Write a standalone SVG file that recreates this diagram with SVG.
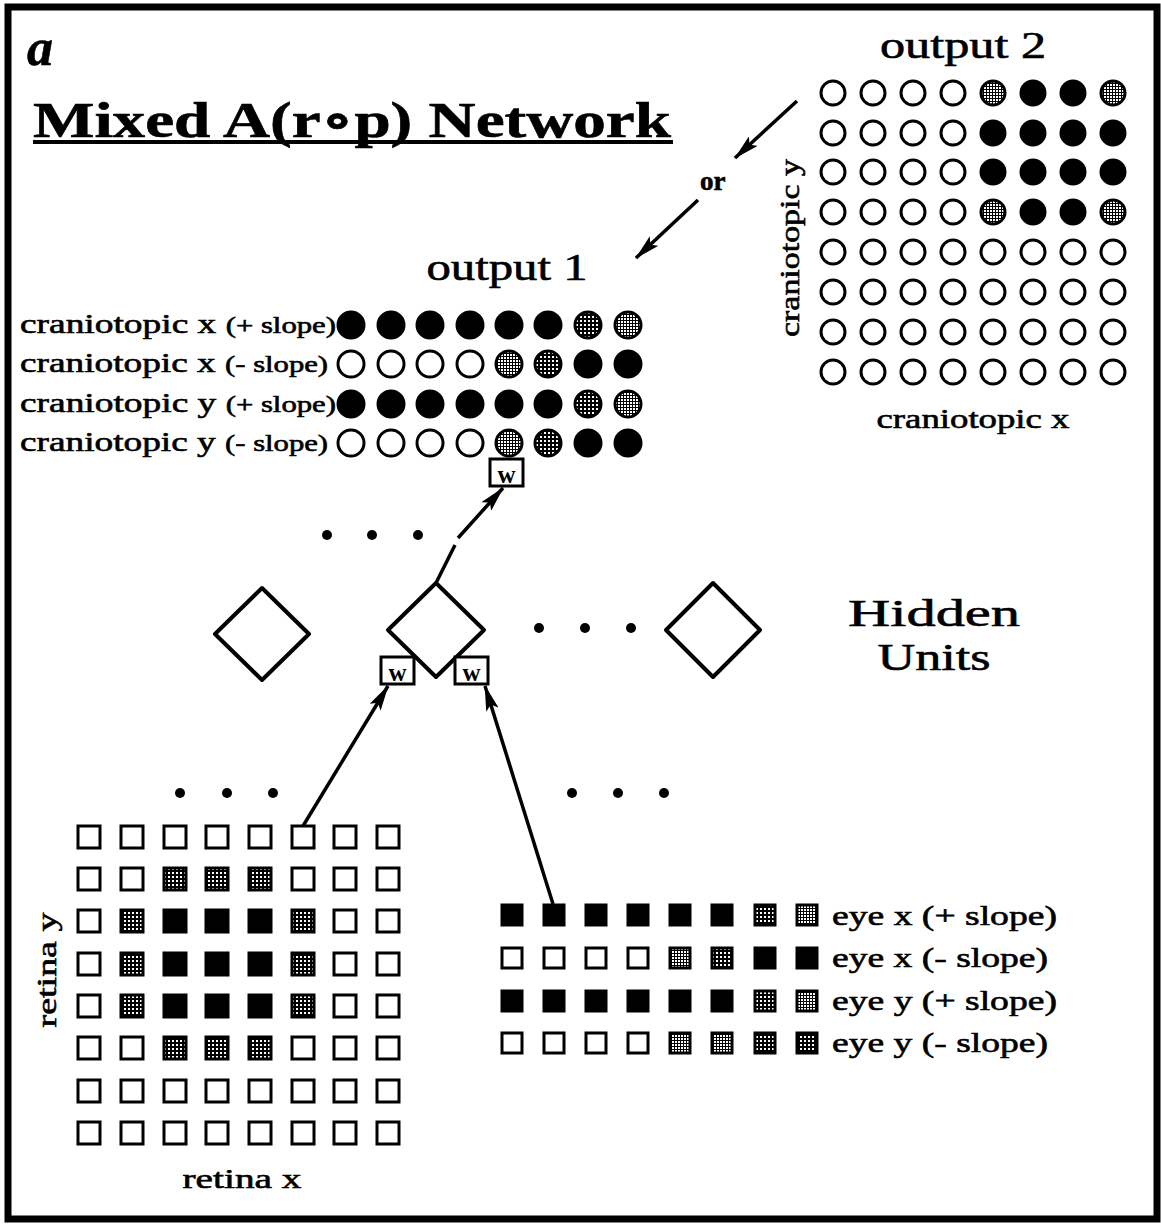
<svg xmlns="http://www.w3.org/2000/svg" width="1161" height="1225" viewBox="0 0 1161 1225">
<style>
text{font-family:"Liberation Serif","DejaVu Serif",serif;fill:#000;stroke:#000;stroke-width:0.6}
.lab{font-size:28px}
.small{font-size:23px}
.u circle{stroke:#000;stroke-width:3;fill:#fff}
.u rect{stroke:#000;stroke-width:3;fill:#fff}
.u .b{fill:#000}
.u .l{fill:url(#lt)}
.u .d{fill:url(#dk)}
.conn line{stroke:#000;stroke-width:3.5;fill:none}
.dia{fill:#fff;stroke:#000;stroke-width:4;stroke-linejoin:round}
.wb rect{fill:#fff;stroke:#000;stroke-width:3}
.wb text{font-size:25px;font-weight:bold;stroke-width:0}
.dot{fill:#000}
</style>
<defs>
<pattern id="lt" width="3" height="3" patternUnits="userSpaceOnUse"><rect width="3" height="3" fill="#000"/><rect width="2" height="2" fill="#fff"/></pattern>
<pattern id="dk" width="4" height="4" patternUnits="userSpaceOnUse"><rect width="4" height="4" fill="#000"/><rect width="2" height="2" fill="#fff"/></pattern>
<marker id="ah" viewBox="0 0 24 12" refX="23" refY="6" markerWidth="26" markerHeight="13" markerUnits="userSpaceOnUse" orient="auto"><path d="M0,0 L24,6 L0,12 L5,6 z" fill="#000"/></marker>
</defs>
<rect x="0" y="0" width="1161" height="1225" fill="#fff"/>
<rect x="8" y="7" width="1149" height="1212" fill="none" stroke="#000" stroke-width="7"/>

<g id="title">
<text x="27" y="65" font-size="52" font-weight="bold" font-style="italic" stroke-width="0.8">a</text>
<text x="33" y="137" font-size="50" font-weight="bold" textLength="638" lengthAdjust="spacingAndGlyphs">Mixed A(r∘p) Network</text>
<rect x="33" y="140" width="640" height="4" fill="#000"/>
</g>

<g id="output2" class="u">
<text x="963" y="58" font-size="37" text-anchor="middle" textLength="166" lengthAdjust="spacingAndGlyphs">output 2</text>
<text class="lab" x="973" y="428" text-anchor="middle" textLength="193" lengthAdjust="spacingAndGlyphs">craniotopic x</text>
<text class="lab" transform="translate(799,248) rotate(-90)" text-anchor="middle" textLength="178" lengthAdjust="spacingAndGlyphs">craniotopic y</text>
<circle cx="833" cy="93" r="12"/><circle cx="873" cy="93" r="12"/><circle cx="913" cy="93" r="12"/><circle cx="953" cy="93" r="12"/><circle class="l" cx="993" cy="93" r="12"/><circle class="b" cx="1033" cy="93" r="12"/><circle class="b" cx="1073" cy="93" r="12"/><circle class="l" cx="1113" cy="93" r="12"/>
<circle cx="833" cy="133" r="12"/><circle cx="873" cy="133" r="12"/><circle cx="913" cy="133" r="12"/><circle cx="953" cy="133" r="12"/><circle class="b" cx="993" cy="133" r="12"/><circle class="b" cx="1033" cy="133" r="12"/><circle class="b" cx="1073" cy="133" r="12"/><circle class="b" cx="1113" cy="133" r="12"/>
<circle cx="833" cy="172" r="12"/><circle cx="873" cy="172" r="12"/><circle cx="913" cy="172" r="12"/><circle cx="953" cy="172" r="12"/><circle class="b" cx="993" cy="172" r="12"/><circle class="b" cx="1033" cy="172" r="12"/><circle class="b" cx="1073" cy="172" r="12"/><circle class="b" cx="1113" cy="172" r="12"/>
<circle cx="833" cy="212" r="12"/><circle cx="873" cy="212" r="12"/><circle cx="913" cy="212" r="12"/><circle cx="953" cy="212" r="12"/><circle class="l" cx="993" cy="212" r="12"/><circle class="b" cx="1033" cy="212" r="12"/><circle class="b" cx="1073" cy="212" r="12"/><circle class="l" cx="1113" cy="212" r="12"/>
<circle cx="833" cy="252" r="12"/><circle cx="873" cy="252" r="12"/><circle cx="913" cy="252" r="12"/><circle cx="953" cy="252" r="12"/><circle cx="993" cy="252" r="12"/><circle cx="1033" cy="252" r="12"/><circle cx="1073" cy="252" r="12"/><circle cx="1113" cy="252" r="12"/>
<circle cx="833" cy="292" r="12"/><circle cx="873" cy="292" r="12"/><circle cx="913" cy="292" r="12"/><circle cx="953" cy="292" r="12"/><circle cx="993" cy="292" r="12"/><circle cx="1033" cy="292" r="12"/><circle cx="1073" cy="292" r="12"/><circle cx="1113" cy="292" r="12"/>
<circle cx="833" cy="332" r="12"/><circle cx="873" cy="332" r="12"/><circle cx="913" cy="332" r="12"/><circle cx="953" cy="332" r="12"/><circle cx="993" cy="332" r="12"/><circle cx="1033" cy="332" r="12"/><circle cx="1073" cy="332" r="12"/><circle cx="1113" cy="332" r="12"/>
<circle cx="833" cy="372" r="12"/><circle cx="873" cy="372" r="12"/><circle cx="913" cy="372" r="12"/><circle cx="953" cy="372" r="12"/><circle cx="993" cy="372" r="12"/><circle cx="1033" cy="372" r="12"/><circle cx="1073" cy="372" r="12"/><circle cx="1113" cy="372" r="12"/>
</g>

<g id="or-label"><text x="700" y="190" font-size="27" font-weight="bold">or</text></g>

<g id="output1" class="u">
<text x="507" y="280" font-size="37" text-anchor="middle" textLength="161" lengthAdjust="spacingAndGlyphs">output 1</text>
<text class="lab" x="20" y="333" textLength="316" lengthAdjust="spacingAndGlyphs">craniotopic x <tspan class="small">(+ slope)</tspan></text>
<text class="lab" x="20" y="372" textLength="308" lengthAdjust="spacingAndGlyphs">craniotopic x <tspan class="small">(- slope)</tspan></text>
<text class="lab" x="20" y="412" textLength="316" lengthAdjust="spacingAndGlyphs">craniotopic y <tspan class="small">(+ slope)</tspan></text>
<text class="lab" x="20" y="451" textLength="308" lengthAdjust="spacingAndGlyphs">craniotopic y <tspan class="small">(- slope)</tspan></text>
<circle class="b" cx="351" cy="325" r="13"/><circle class="b" cx="391" cy="325" r="13"/><circle class="b" cx="430" cy="325" r="13"/><circle class="b" cx="470" cy="325" r="13"/><circle class="b" cx="509" cy="325" r="13"/><circle class="b" cx="548" cy="325" r="13"/><circle class="d" cx="588" cy="325" r="13"/><circle class="l" cx="628" cy="325" r="13"/>
<circle cx="351" cy="364" r="13"/><circle cx="391" cy="364" r="13"/><circle cx="430" cy="364" r="13"/><circle cx="470" cy="364" r="13"/><circle class="l" cx="509" cy="364" r="13"/><circle class="d" cx="548" cy="364" r="13"/><circle class="b" cx="588" cy="364" r="13"/><circle class="b" cx="628" cy="364" r="13"/>
<circle class="b" cx="351" cy="404" r="13"/><circle class="b" cx="391" cy="404" r="13"/><circle class="b" cx="430" cy="404" r="13"/><circle class="b" cx="470" cy="404" r="13"/><circle class="b" cx="509" cy="404" r="13"/><circle class="b" cx="548" cy="404" r="13"/><circle class="d" cx="588" cy="404" r="13"/><circle class="l" cx="628" cy="404" r="13"/>
<circle cx="351" cy="443" r="13"/><circle cx="391" cy="443" r="13"/><circle cx="430" cy="443" r="13"/><circle cx="470" cy="443" r="13"/><circle class="l" cx="509" cy="443" r="13"/><circle class="d" cx="548" cy="443" r="13"/><circle class="b" cx="588" cy="443" r="13"/><circle class="b" cx="628" cy="443" r="13"/>
</g>

<g id="w-top" class="wb"><rect x="490" y="459" width="33" height="27"/><text x="506.5" y="483" text-anchor="middle">w</text></g>

<g id="dots-top"><circle class="dot" cx="327" cy="535" r="5"/><circle class="dot" cx="372" cy="535" r="5"/><circle class="dot" cx="418" cy="535" r="5"/></g>

<g id="hidden1"><path class="dia" d="M262,588 L309,634 L262,680 L215,634 Z"/></g>
<g id="hidden2"><path class="dia" d="M436,583 L484,630 L436,677 L388,630 Z"/></g>
<g id="hidden3"><path class="dia" d="M713,583 L760,630 L713,677 L666,630 Z"/></g>
<g id="dots-hidden"><circle class="dot" cx="539" cy="628" r="5"/><circle class="dot" cx="585" cy="628" r="5"/><circle class="dot" cx="631" cy="628" r="5"/></g>
<g id="hidden-label"><text x="934" y="626" font-size="38" text-anchor="middle" textLength="172" lengthAdjust="spacingAndGlyphs">Hidden</text><text x="934" y="670" font-size="38" text-anchor="middle" textLength="113" lengthAdjust="spacingAndGlyphs">Units</text></g>

<g id="w-left" class="wb"><rect x="381" y="657" width="33" height="27"/><text x="397.5" y="681" text-anchor="middle">w</text></g>
<g id="w-right" class="wb"><rect x="455" y="657" width="33" height="27"/><text x="471.5" y="681" text-anchor="middle">w</text></g>

<g id="dots-retina"><circle class="dot" cx="180" cy="793" r="5"/><circle class="dot" cx="227" cy="793" r="5"/><circle class="dot" cx="273" cy="793" r="5"/></g>
<g id="dots-eye"><circle class="dot" cx="572" cy="793" r="5"/><circle class="dot" cx="618" cy="793" r="5"/><circle class="dot" cx="664" cy="793" r="5"/></g>

<g id="retina" class="u">
<text class="lab" x="242" y="1188" text-anchor="middle" textLength="119" lengthAdjust="spacingAndGlyphs">retina x</text>
<text class="lab" transform="translate(56,970) rotate(-90)" text-anchor="middle" textLength="115" lengthAdjust="spacingAndGlyphs">retina y</text>
<rect x="78" y="826" width="22" height="22"/><rect x="121" y="826" width="22" height="22"/><rect x="164" y="826" width="22" height="22"/><rect x="206" y="826" width="22" height="22"/><rect x="249" y="826" width="22" height="22"/><rect x="292" y="826" width="22" height="22"/><rect x="334" y="826" width="22" height="22"/><rect x="377" y="826" width="22" height="22"/>
<rect x="78" y="868" width="22" height="22"/><rect x="121" y="868" width="22" height="22"/><rect class="d" x="164" y="868" width="22" height="22"/><rect class="d" x="206" y="868" width="22" height="22"/><rect class="d" x="249" y="868" width="22" height="22"/><rect x="292" y="868" width="22" height="22"/><rect x="334" y="868" width="22" height="22"/><rect x="377" y="868" width="22" height="22"/>
<rect x="78" y="910" width="22" height="22"/><rect class="d" x="121" y="910" width="22" height="22"/><rect class="b" x="164" y="910" width="22" height="22"/><rect class="b" x="206" y="910" width="22" height="22"/><rect class="b" x="249" y="910" width="22" height="22"/><rect class="d" x="292" y="910" width="22" height="22"/><rect x="334" y="910" width="22" height="22"/><rect x="377" y="910" width="22" height="22"/>
<rect x="78" y="953" width="22" height="22"/><rect class="d" x="121" y="953" width="22" height="22"/><rect class="b" x="164" y="953" width="22" height="22"/><rect class="b" x="206" y="953" width="22" height="22"/><rect class="b" x="249" y="953" width="22" height="22"/><rect class="d" x="292" y="953" width="22" height="22"/><rect x="334" y="953" width="22" height="22"/><rect x="377" y="953" width="22" height="22"/>
<rect x="78" y="995" width="22" height="22"/><rect class="d" x="121" y="995" width="22" height="22"/><rect class="b" x="164" y="995" width="22" height="22"/><rect class="b" x="206" y="995" width="22" height="22"/><rect class="b" x="249" y="995" width="22" height="22"/><rect class="d" x="292" y="995" width="22" height="22"/><rect x="334" y="995" width="22" height="22"/><rect x="377" y="995" width="22" height="22"/>
<rect x="78" y="1037" width="22" height="22"/><rect x="121" y="1037" width="22" height="22"/><rect class="d" x="164" y="1037" width="22" height="22"/><rect class="d" x="206" y="1037" width="22" height="22"/><rect class="d" x="249" y="1037" width="22" height="22"/><rect x="292" y="1037" width="22" height="22"/><rect x="334" y="1037" width="22" height="22"/><rect x="377" y="1037" width="22" height="22"/>
<rect x="78" y="1080" width="22" height="22"/><rect x="121" y="1080" width="22" height="22"/><rect x="164" y="1080" width="22" height="22"/><rect x="206" y="1080" width="22" height="22"/><rect x="249" y="1080" width="22" height="22"/><rect x="292" y="1080" width="22" height="22"/><rect x="334" y="1080" width="22" height="22"/><rect x="377" y="1080" width="22" height="22"/>
<rect x="78" y="1122" width="22" height="22"/><rect x="121" y="1122" width="22" height="22"/><rect x="164" y="1122" width="22" height="22"/><rect x="206" y="1122" width="22" height="22"/><rect x="249" y="1122" width="22" height="22"/><rect x="292" y="1122" width="22" height="22"/><rect x="334" y="1122" width="22" height="22"/><rect x="377" y="1122" width="22" height="22"/>
</g>

<g id="eye" class="u">
<text class="lab" x="832" y="925" textLength="225" lengthAdjust="spacingAndGlyphs">eye x (+ slope)</text>
<text class="lab" x="832" y="967" textLength="216" lengthAdjust="spacingAndGlyphs">eye x (- slope)</text>
<text class="lab" x="832" y="1010" textLength="225" lengthAdjust="spacingAndGlyphs">eye y (+ slope)</text>
<text class="lab" x="832" y="1052" textLength="216" lengthAdjust="spacingAndGlyphs">eye y (- slope)</text>
<rect class="b" x="502" y="905" width="20" height="20"/><rect class="b" x="544" y="905" width="20" height="20"/><rect class="b" x="586" y="905" width="20" height="20"/><rect class="b" x="628" y="905" width="20" height="20"/><rect class="b" x="670" y="905" width="20" height="20"/><rect class="b" x="712" y="905" width="20" height="20"/><rect class="d" x="755" y="905" width="20" height="20"/><rect class="l" x="797" y="905" width="20" height="20"/>
<rect x="502" y="948" width="20" height="20"/><rect x="544" y="948" width="20" height="20"/><rect x="586" y="948" width="20" height="20"/><rect x="628" y="948" width="20" height="20"/><rect class="l" x="670" y="948" width="20" height="20"/><rect class="d" x="712" y="948" width="20" height="20"/><rect class="b" x="755" y="948" width="20" height="20"/><rect class="b" x="797" y="948" width="20" height="20"/>
<rect class="b" x="502" y="991" width="20" height="20"/><rect class="b" x="544" y="991" width="20" height="20"/><rect class="b" x="586" y="991" width="20" height="20"/><rect class="b" x="628" y="991" width="20" height="20"/><rect class="b" x="670" y="991" width="20" height="20"/><rect class="b" x="712" y="991" width="20" height="20"/><rect class="d" x="755" y="991" width="20" height="20"/><rect class="l" x="797" y="991" width="20" height="20"/>
<rect x="502" y="1033" width="20" height="20"/><rect x="544" y="1033" width="20" height="20"/><rect x="586" y="1033" width="20" height="20"/><rect x="628" y="1033" width="20" height="20"/><rect class="l" x="670" y="1033" width="20" height="20"/><rect class="l" x="712" y="1033" width="20" height="20"/><rect class="d" x="755" y="1033" width="20" height="20"/><rect class="d" x="797" y="1033" width="20" height="20"/>
</g>

<g id="connectors" class="conn">
<line x1="797" y1="101" x2="735" y2="158" marker-end="url(#ah)"/>
<line x1="698" y1="200" x2="636" y2="258" marker-end="url(#ah)"/>
<line x1="436" y1="583" x2="455" y2="545"/>
<line x1="458" y1="538" x2="503" y2="488" marker-end="url(#ah)"/>
<line x1="303" y1="826" x2="388" y2="686" marker-end="url(#ah)"/>
<line x1="553" y1="904" x2="485" y2="686" marker-end="url(#ah)"/>
</g>
</svg>
